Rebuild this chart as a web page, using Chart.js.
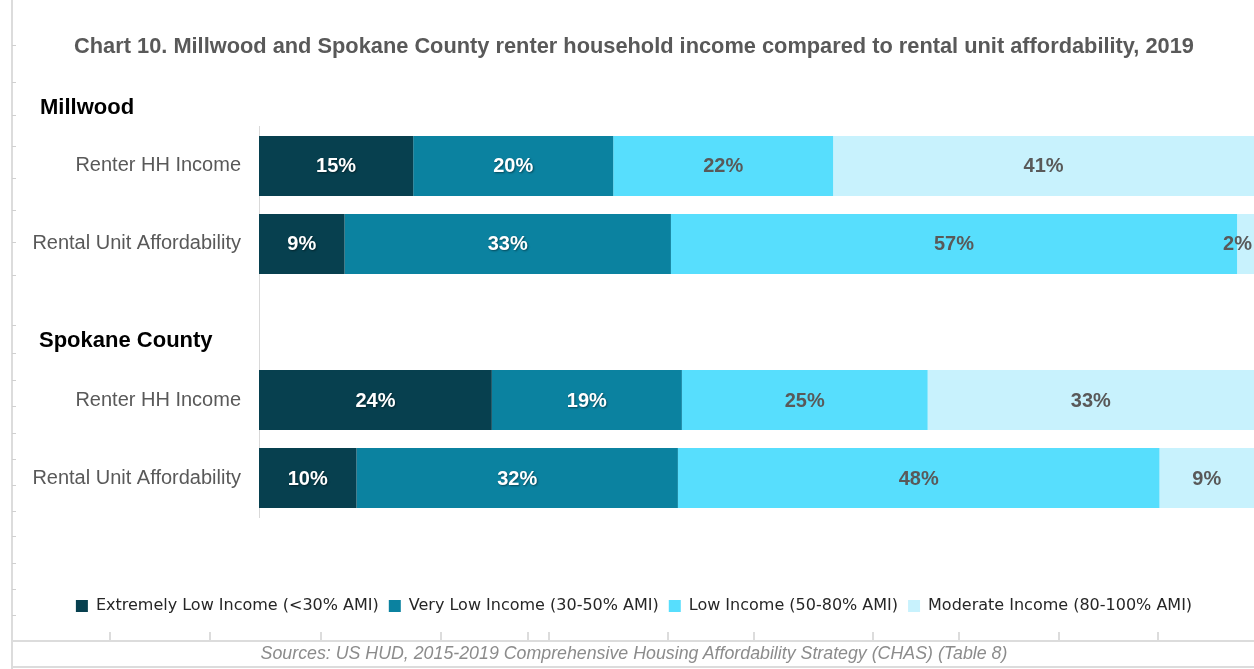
<!DOCTYPE html>
<html>
<head>
<meta charset="utf-8">
<script src="https://cdn.jsdelivr.net/npm/chart.js@4/dist/chart.umd.min.js"></script>
<style>
  html, body { margin: 0; padding: 0; background: #ffffff; }
  #wrap { position: relative; width: 1254px; height: 669px; overflow: hidden; }
  #c { position: absolute; left: 0; top: 0; }
  .vline { position: absolute; left: 11px; top: 0; width: 2px; height: 669px; background: #dcdcdc; }
  .hline { position: absolute; left: 11px; width: 1243px; height: 2px; background: #dcdcdc; }
  .btick { position: absolute; top: 632px; width: 2px; height: 9px; background: #dcdcdc; }
  .ltick { position: absolute; left: 12px; width: 4px; height: 1px; background: #d0d0d0; }
  #src { position: absolute; left: 0; width: 1268px; top: 643px; text-align: center;
         font: italic 17.8px "Liberation Sans", Arial, sans-serif; color: #8c8c8c; }
</style>
</head>
<body>
<div id="wrap">
  <div class="vline"></div>
  <div class="hline" style="top:640px"></div>
  <div class="hline" style="top:666px"></div>
  <div class="btick" style="left:109px"></div>
  <div class="btick" style="left:209px"></div>
  <div class="btick" style="left:320px"></div>
  <div class="btick" style="left:440px"></div>
  <div class="btick" style="left:527px"></div>
  <div class="btick" style="left:548px"></div>
  <div class="btick" style="left:667px"></div>
  <div class="btick" style="left:753px"></div>
  <div class="btick" style="left:872px"></div>
  <div class="btick" style="left:958px"></div>
  <div class="btick" style="left:1058px"></div>
  <div class="btick" style="left:1157px"></div>
  <div class="ltick" style="top:45px"></div>
  <div class="ltick" style="top:82px"></div>
  <div class="ltick" style="top:115px"></div>
  <div class="ltick" style="top:146px"></div>
  <div class="ltick" style="top:178px"></div>
  <div class="ltick" style="top:210px"></div>
  <div class="ltick" style="top:242px"></div>
  <div class="ltick" style="top:275px"></div>
  <div class="ltick" style="top:325px"></div>
  <div class="ltick" style="top:353px"></div>
  <div class="ltick" style="top:380px"></div>
  <div class="ltick" style="top:406px"></div>
  <div class="ltick" style="top:433px"></div>
  <div class="ltick" style="top:459px"></div>
  <div class="ltick" style="top:485px"></div>
  <div class="ltick" style="top:511px"></div>
  <div class="ltick" style="top:536px"></div>
  <div class="ltick" style="top:563px"></div>
  <div class="ltick" style="top:589px"></div>
  <div class="ltick" style="top:615px"></div>
  <canvas id="c" width="1268" height="669"></canvas>
  <div id="src">Sources: US HUD, 2015-2019 Comprehensive Housing Affordability Strategy (CHAS) (Table 8)</div>
</div>
<script>
// ---- data ----
const chartTitle = 'Chart 10. Millwood and Spokane County renter household income compared to rental unit affordability, 2019';
const categories = ['Renter HH Income', 'Rental Unit Affordability', '', 'Renter HH Income', 'Rental Unit Affordability'];
const groupNames = ['Millwood', 'Spokane County'];
const seriesNames = ['Extremely Low Income (<30% AMI)', 'Very Low Income (30-50% AMI)', 'Low Income (50-80% AMI)', 'Moderate Income (80-100% AMI)'];

// segment shares (percent)
const extremelyLow = [15.5, 8.6, null, 23.4, 9.8];
const veryLow      = [20.1, 32.8, null, 19.1, 32.3];
const low          = [22.1, 56.9, null, 24.7, 48.4];
const moderate     = [42.3, 1.7, null, 32.8, 9.5];

// data labels as printed on the bars
const extremelyLowLabels = ['15%', '9%', '', '24%', '10%'];
const veryLowLabels      = ['20%', '33%', '', '19%', '32%'];
const lowLabels          = ['22%', '57%', '', '25%', '48%'];
const moderateLabels     = ['41%', '2%', '', '33%', '9%'];

const seriesColors = ['#07404F', '#0B82A0', '#57DEFD', '#C8F2FD'];
const labelColors  = ['#FFFFFF', '#FFFFFF', '#595959', '#595959'];

const allValues = [extremelyLow, veryLow, low, moderate];
const allLabels = [extremelyLowLabels, veryLowLabels, lowLabels, moderateLabels];

const datasets = seriesNames.map((name, i) => ({
  label: name,
  data: allValues[i],
  backgroundColor: seriesColors[i],
  borderWidth: 0,
  barPercentage: 0.77,
  categoryPercentage: 1.0,
  segLabels: allLabels[i],
  segLabelColor: labelColors[i]
}));

const barLabelPlugin = {
  id: 'barLabels',
  afterDatasetsDraw(chart) {
    const ctx = chart.ctx;
    const area = chart.chartArea;
    ctx.save();
    ctx.font = 'bold 20px "Liberation Sans", Arial, sans-serif';
    ctx.textAlign = 'center';
    ctx.textBaseline = 'middle';
    chart.data.datasets.forEach((ds, di) => {
      const meta = chart.getDatasetMeta(di);
      meta.data.forEach((el, i) => {
        const txt = ds.segLabels[i];
        if (!txt) return;
        const x1 = Math.max(el.base, area.left), x2 = Math.min(el.x, area.right);
        let cx = (x1 + x2) / 2;
        const w = ctx.measureText(txt).width;
        if (cx + w / 2 > area.right - 2) cx = area.right - 2 - w / 2;
        if (ds.segLabelColor === '#FFFFFF') {
          ctx.shadowColor = 'rgba(0,0,0,0.45)';
          ctx.shadowBlur = 2;
          ctx.shadowOffsetX = 1;
          ctx.shadowOffsetY = 1;
        } else {
          ctx.shadowColor = 'rgba(0,0,0,0)';
          ctx.shadowBlur = 0;
          ctx.shadowOffsetX = 0;
          ctx.shadowOffsetY = 0;
        }
        ctx.fillStyle = ds.segLabelColor;
        ctx.fillText(txt, cx, el.y + 1);
      });
    });
    ctx.restore();
  }
};

const groupLabelPlugin = {
  id: 'groupLabels',
  afterDraw(chart) {
    const ctx = chart.ctx;
    const y = chart.scales.y;
    ctx.save();
    ctx.font = 'bold 22px "Liberation Sans", Arial, sans-serif';
    ctx.fillStyle = '#000000';
    ctx.textAlign = 'left';
    ctx.textBaseline = 'middle';
    ctx.fillText(groupNames[0], 40, chart.chartArea.top - 19);
    ctx.fillText(groupNames[1], 39, y.getPixelForValue(2) + 19);
    ctx.restore();
  }
};

new Chart(document.getElementById('c'), {
  type: 'bar',
  data: { labels: categories, datasets: datasets },
  options: {
    indexAxis: 'y',
    responsive: false,
    animation: false,
    layout: { padding: { left: 14, right: 14, top: 0, bottom: 45 } },
    scales: {
      x: {
        stacked: true,
        min: 0,
        max: 100,
        display: true,
        grid: { display: false, drawTicks: false },
        border: { display: false },
        ticks: { display: false },
        afterFit(scale) { scale.height = 71; }
      },
      y: {
        stacked: true,
        grid: { display: false, drawTicks: false },
        border: { display: true, color: '#d9d9d9', width: 1 },
        ticks: {
          padding: 18,
          color: '#595959',
          font: { family: '"Liberation Sans", Arial, sans-serif', size: 20 }
        },
        afterFit(scale) { scale.width = 245; }
      }
    },
    plugins: {
      title: {
        display: true,
        text: chartTitle,
        color: '#595959',
        font: { family: '"Liberation Sans", Arial, sans-serif', size: 21.8, weight: 'bold', lineHeight: 1.2 },
        padding: { top: 33.9, bottom: 66.9 }
      },
      legend: {
        display: true,
        position: 'bottom',
        labels: {
          boxWidth: 12,
          boxHeight: 12,
          padding: 10,
          color: '#262626',
          font: { family: '"DejaVu Sans", sans-serif', size: 16 }
        }
      },
      tooltip: { enabled: false }
    }
  },
  plugins: [barLabelPlugin, groupLabelPlugin]
});
</script>
</body>
</html>
